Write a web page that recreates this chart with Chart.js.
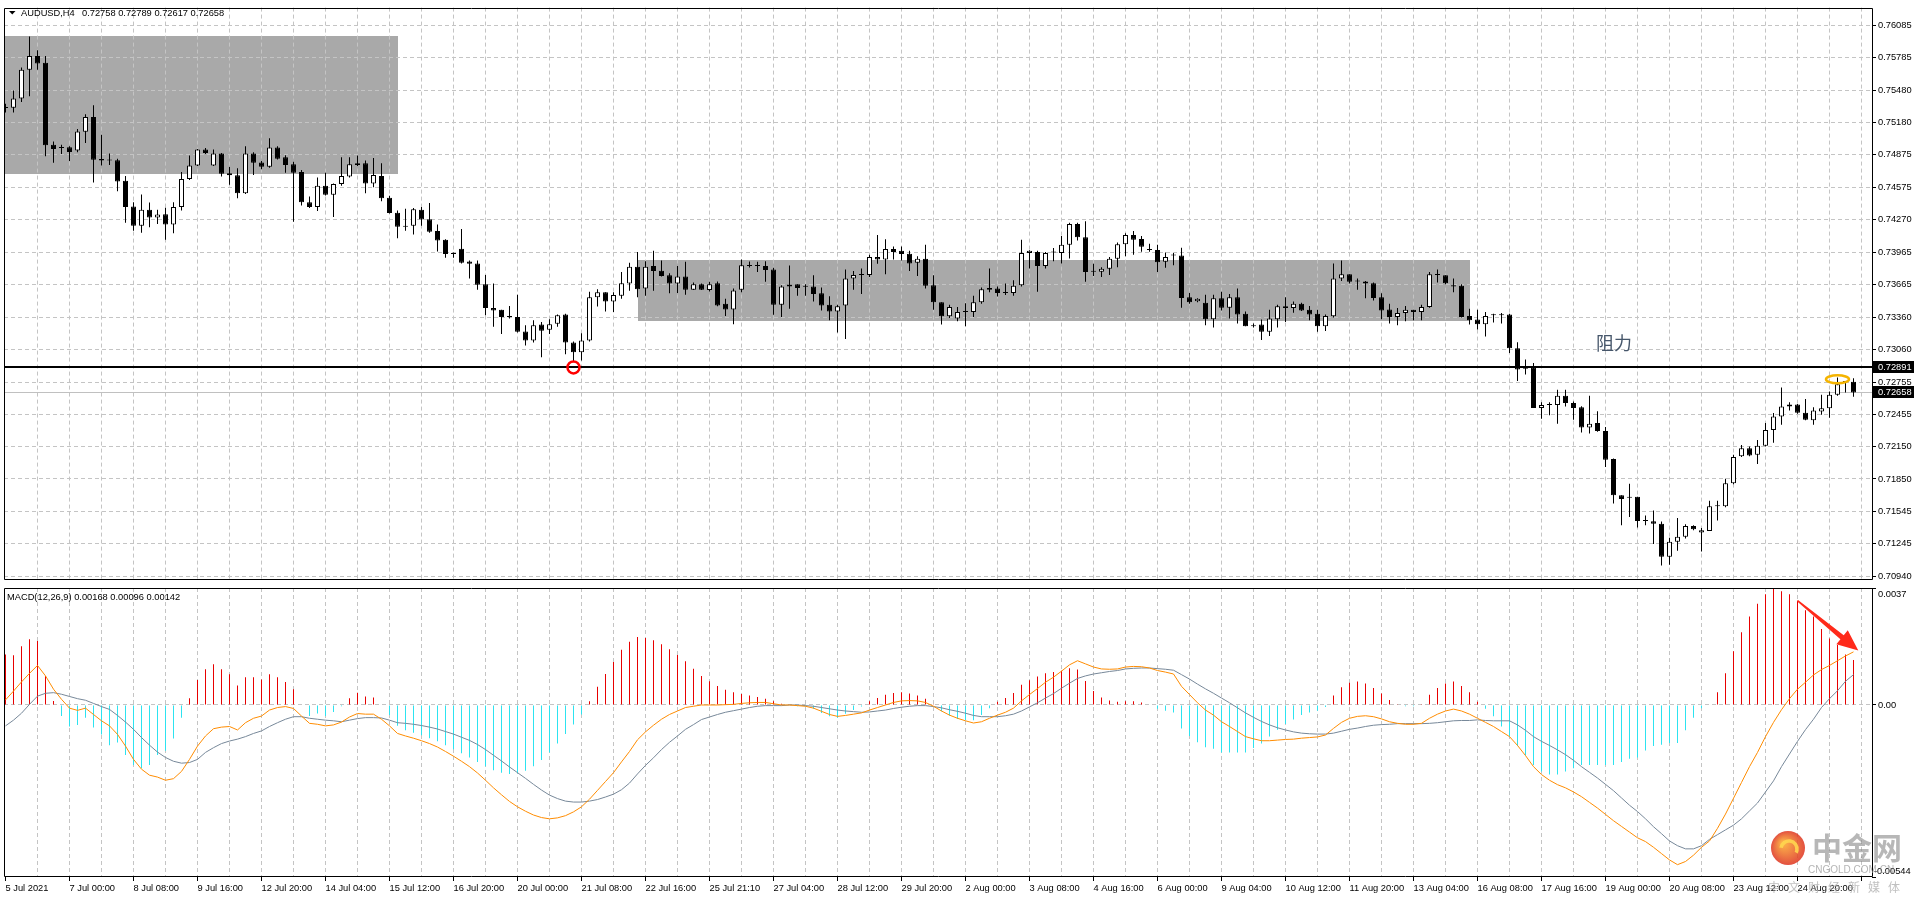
<!DOCTYPE html>
<html>
<head>
<meta charset="utf-8">
<script src="https://cdn.jsdelivr.net/npm/chart.js@4.4.0/dist/chart.umd.min.js"></script>
<style>
html, body { margin: 0; padding: 0; background: #fff; width: 1920px; height: 900px; overflow: hidden; }
#wrap { position: relative; width: 1920px; height: 900px; }
canvas { position: absolute; left: 0; }
#cPrice { top: 0; }
#cMacd { top: 576px; }
</style>
</head>
<body>
<div id="wrap">
  <canvas id="cPrice" width="1920" height="588"></canvas>
  <canvas id="cMacd" width="1920" height="324"></canvas>
</div>
<script>
// AUDUSD H4, one entry per bar
const opens = [
  0.75313,0.75316,0.75402,0.75669,0.75797,0.75736,0.74970,0.74939,0.74946,0.74915,
  0.75090,0.75228,0.74836,0.74823,0.74826,0.74633,0.74394,0.74213,0.74364,0.74290,
  0.74321,0.74226,0.74388,0.74649,0.74777,0.74925,0.74777,0.74888,0.74704,0.74685,
  0.74516,0.74888,0.74805,0.74765,0.74943,0.74854,0.74787,0.74716,0.74434,0.74388,
  0.74587,0.74502,0.74603,0.74673,0.74796,0.74796,0.74608,0.74679,0.74474,0.74336,
  0.74213,0.74213,0.74364,0.74275,0.74165,0.74082,0.73951,0.73999,0.73880,0.73861,
  0.73668,0.73445,0.73429,0.73362,0.73362,0.73227,0.73142,0.73292,0.73243,0.73298,
  0.73384,0.73124,0.73032,0.73142,0.73546,0.73592,0.73506,0.73561,0.73675,0.73831,
  0.73629,0.73837,0.73794,0.73751,0.73675,0.73739,0.73616,0.73668,0.73613,0.73678,
  0.73485,0.73432,0.73616,0.73846,0.73837,0.73837,0.73806,0.73475,0.73647,0.73668,
  0.73644,0.73647,0.73583,0.73475,0.73414,0.73469,0.73721,0.73754,0.73754,0.73923,
  0.73898,0.73996,0.73981,0.73953,0.73868,0.73905,0.73659,0.73500,0.73368,0.73347,
  0.73408,0.73408,0.73500,0.73632,0.73629,0.73586,0.73586,0.73659,0.73960,0.73969,
  0.73837,0.73965,0.73960,0.74036,0.74229,0.74107,0.73785,0.73785,0.73813,0.73905,
  0.74042,0.74128,0.74091,0.73988,0.73988,0.73877,0.73935,0.73935,0.73546,0.73509,
  0.73494,0.73340,0.73537,0.73448,0.73546,0.73393,0.73285,0.73292,0.73225,0.73340,
  0.73463,0.73445,0.73485,0.73429,0.73393,0.73276,0.73368,0.73721,0.73760,0.73693,
  0.73693,0.73678,0.73546,0.73432,0.73362,0.73399,0.73429,0.73408,0.73454,0.73754,
  0.73751,0.73659,0.73653,0.73372,0.73338,0.73294,0.73377,0.73377,0.73384,0.73071,
  0.72878,0.72887,0.72513,0.72541,0.72541,0.72627,0.72560,0.72520,0.72330,0.72373,
  0.72297,0.72036,0.71699,0.71675,0.71684,0.71457,0.71456,0.71433,0.71123,0.71264,
  0.71310,0.71411,0.71350,0.71365,0.71595,0.71595,0.71810,0.72061,0.72137,0.72076,
  0.72159,0.72306,0.72434,0.72526,0.72545,0.72467,0.72398,0.72480,0.72511,0.72637,
  0.72756,0.72758
];
const highs = [
  0.75353,0.75476,0.75690,0.75981,0.75852,0.75797,0.75001,0.74970,0.74955,0.75117,
  0.75255,0.75338,0.75062,0.74888,0.74838,0.74679,0.74434,0.74505,0.74431,0.74364,
  0.74382,0.74434,0.74716,0.74869,0.74930,0.74939,0.74925,0.74893,0.74762,0.74750,
  0.74955,0.74900,0.74817,0.75031,0.74955,0.74872,0.74810,0.74734,0.74486,0.74663,
  0.74709,0.74608,0.74854,0.74854,0.74869,0.74823,0.74847,0.74796,0.74493,0.74357,
  0.74373,0.74379,0.74388,0.74425,0.74226,0.74088,0.73965,0.74183,0.73889,0.73889,
  0.73754,0.73675,0.73429,0.73464,0.73570,0.73285,0.73331,0.73316,0.73340,0.73384,
  0.73393,0.73133,0.73209,0.73598,0.73622,0.73592,0.73592,0.73781,0.73868,0.73969,
  0.73883,0.73981,0.73889,0.73770,0.73837,0.73877,0.73684,0.73675,0.73690,0.73693,
  0.73531,0.73629,0.73898,0.73880,0.73877,0.73883,0.73822,0.73659,0.73843,0.73668,
  0.73668,0.73751,0.73638,0.73555,0.73475,0.73806,0.73791,0.73815,0.73944,0.74128,
  0.74088,0.74020,0.74020,0.73981,0.73929,0.74036,0.73751,0.73500,0.73475,0.73454,
  0.73491,0.73561,0.73638,0.73815,0.73647,0.73675,0.73705,0.74082,0.73984,0.73981,
  0.73969,0.74005,0.74119,0.74241,0.74241,0.74256,0.73859,0.73827,0.73923,0.74057,
  0.74143,0.74165,0.74119,0.74045,0.74036,0.73965,0.73960,0.74008,0.73586,0.73537,
  0.73570,0.73570,0.73598,0.73577,0.73629,0.73414,0.73301,0.73338,0.73430,0.73475,
  0.73546,0.73506,0.73494,0.73464,0.73429,0.73384,0.73861,0.73889,0.73760,0.73721,
  0.73699,0.73684,0.73583,0.73485,0.73445,0.73464,0.73429,0.73475,0.73781,0.73806,
  0.73751,0.73721,0.73668,0.73439,0.73429,0.73408,0.73393,0.73399,0.73393,0.73126,
  0.72964,0.72933,0.72566,0.72566,0.72683,0.72683,0.72572,0.72529,0.72627,0.72483,
  0.72336,0.72042,0.71699,0.71806,0.71684,0.71509,0.71555,0.71454,0.71301,0.71485,
  0.71427,0.71418,0.71392,0.71647,0.71647,0.71852,0.72076,0.72168,0.72152,0.72214,
  0.72373,0.72465,0.72704,0.72566,0.72550,0.72596,0.72520,0.72637,0.72667,0.72796,
  0.72756,0.72789
];
const lows = [
  0.75270,0.75270,0.75368,0.75423,0.75669,0.74863,0.74801,0.74884,0.74817,0.74900,
  0.74985,0.74618,0.74777,0.74780,0.74535,0.74241,0.74167,0.74149,0.74199,0.74229,
  0.74082,0.74143,0.74357,0.74640,0.74771,0.74884,0.74771,0.74673,0.74596,0.74471,
  0.74511,0.74688,0.74741,0.74755,0.74832,0.74709,0.74250,0.74403,0.74379,0.74351,
  0.74495,0.74296,0.74587,0.74663,0.74771,0.74516,0.74572,0.74443,0.74327,0.74097,
  0.74167,0.74131,0.74213,0.74149,0.73974,0.73914,0.73914,0.73861,0.73721,0.73616,
  0.73377,0.73271,0.73203,0.73347,0.73218,0.73096,0.73124,0.72986,0.73203,0.73271,
  0.73013,0.72949,0.72955,0.73133,0.73460,0.73414,0.73408,0.73531,0.73607,0.73546,
  0.73561,0.73607,0.73739,0.73583,0.73586,0.73570,0.73613,0.73613,0.73601,0.73463,
  0.73371,0.73294,0.73592,0.73825,0.73781,0.73690,0.73383,0.73362,0.73439,0.73561,
  0.73561,0.73506,0.73423,0.73331,0.73218,0.73157,0.73616,0.73577,0.73735,0.73859,
  0.73760,0.73898,0.73889,0.73791,0.73745,0.73629,0.73429,0.73292,0.73353,0.73322,
  0.73276,0.73362,0.73485,0.73592,0.73552,0.73567,0.73561,0.73647,0.73815,0.73598,
  0.73815,0.73883,0.73861,0.73907,0.74076,0.73690,0.73745,0.73735,0.73754,0.73827,
  0.73929,0.73944,0.73972,0.73972,0.73781,0.73822,0.73846,0.73448,0.73485,0.73500,
  0.73285,0.73264,0.73423,0.73347,0.73301,0.73276,0.73264,0.73147,0.73184,0.73264,
  0.73316,0.73402,0.73417,0.73331,0.73225,0.73230,0.73356,0.73699,0.73675,0.73616,
  0.73537,0.73515,0.73340,0.73301,0.73285,0.73322,0.73331,0.73331,0.73448,0.73684,
  0.73668,0.73592,0.73356,0.73292,0.73246,0.73179,0.73310,0.73301,0.73025,0.72765,
  0.72826,0.72513,0.72412,0.72444,0.72366,0.72526,0.72403,0.72284,0.72275,0.72290,
  0.71962,0.71622,0.71417,0.71494,0.71396,0.71417,0.71243,0.71043,0.71050,0.71181,
  0.71295,0.71371,0.71172,0.71365,0.71463,0.71586,0.71801,0.72054,0.72061,0.71990,
  0.72152,0.72189,0.72357,0.72490,0.72458,0.72398,0.72357,0.72449,0.72422,0.72627,
  0.72658,0.72617
];
const closes = [
  0.75313,0.75402,0.75669,0.75797,0.75729,0.74964,0.74930,0.74939,0.74902,0.75093,
  0.75228,0.74829,0.74822,0.74823,0.74627,0.74388,0.74213,0.74364,0.74290,0.74318,
  0.74226,0.74388,0.74649,0.74777,0.74925,0.74893,0.74888,0.74700,0.74685,0.74516,
  0.74888,0.74801,0.74765,0.74943,0.74838,0.74780,0.74709,0.74434,0.74388,0.74587,
  0.74502,0.74603,0.74679,0.74787,0.74780,0.74608,0.74688,0.74471,0.74333,0.74204,
  0.74204,0.74367,0.74272,0.74158,0.74076,0.73951,0.73951,0.73868,0.73859,0.73662,
  0.73445,0.73423,0.73362,0.73362,0.73225,0.73142,0.73285,0.73234,0.73294,0.73377,
  0.73124,0.73032,0.73142,0.73546,0.73592,0.73506,0.73567,0.73678,0.73831,0.73622,
  0.73831,0.73791,0.73745,0.73675,0.73739,0.73616,0.73668,0.73616,0.73668,0.73469,
  0.73432,0.73610,0.73846,0.73837,0.73837,0.73800,0.73475,0.73647,0.73666,0.73632,
  0.73644,0.73577,0.73469,0.73414,0.73463,0.73721,0.73754,0.73754,0.73923,0.73898,
  0.73996,0.73969,0.73951,0.73861,0.73905,0.73653,0.73500,0.73368,0.73454,0.73408,
  0.73408,0.73500,0.73622,0.73616,0.73586,0.73586,0.73653,0.73960,0.73981,0.73837,
  0.73960,0.73965,0.74036,0.74229,0.74107,0.73781,0.73785,0.73813,0.73905,0.74042,
  0.74128,0.74082,0.74018,0.73988,0.73873,0.73923,0.73935,0.73540,0.73500,0.73531,
  0.73340,0.73537,0.73448,0.73546,0.73384,0.73276,0.73276,0.73225,0.73347,0.73463,
  0.73445,0.73485,0.73423,0.73386,0.73276,0.73372,0.73721,0.73760,0.73690,0.73693,
  0.73675,0.73540,0.73423,0.73362,0.73399,0.73429,0.73408,0.73454,0.73760,0.73754,
  0.73678,0.73647,0.73362,0.73331,0.73294,0.73372,0.73377,0.73377,0.73071,0.72872,
  0.72878,0.72513,0.72541,0.72541,0.72627,0.72560,0.72513,0.72330,0.72366,0.72297,
  0.72030,0.71699,0.71663,0.71675,0.71457,0.71457,0.71433,0.71123,0.71264,0.71310,
  0.71411,0.71381,0.71371,0.71595,0.71595,0.71810,0.72054,0.72137,0.72070,0.72159,
  0.72306,0.72434,0.72526,0.72545,0.72467,0.72403,0.72490,0.72511,0.72637,0.72734,
  0.72756,0.72658
];

// MACD(12,26,9): dif = orange line, dea = grey line, hist = red/cyan bars
const dif = [
  0.00016,0.00044,0.00073,0.00100,0.00125,0.00092,0.00050,0.00018,-0.00010,-0.00017,
  -0.00010,-0.00030,-0.00050,-0.00066,-0.00093,-0.00130,-0.00172,-0.00203,-0.00222,-0.00228,
  -0.00238,-0.00233,-0.00210,-0.00172,-0.00130,-0.00098,-0.00075,-0.00070,-0.00068,-0.00079,
  -0.00056,-0.00042,-0.00035,-0.00016,-0.00008,-0.00005,-0.00011,-0.00035,-0.00058,-0.00061,
  -0.00066,-0.00063,-0.00054,-0.00038,-0.00027,-0.00029,-0.00029,-0.00045,-0.00066,-0.00090,
  -0.00098,-0.00105,-0.00113,-0.00122,-0.00133,-0.00147,-0.00162,-0.00178,-0.00195,-0.00215,
  -0.00238,-0.00262,-0.00284,-0.00305,-0.00322,-0.00336,-0.00348,-0.00356,-0.00360,-0.00357,
  -0.00350,-0.00338,-0.00322,-0.00298,-0.00270,-0.00242,-0.00214,-0.00180,-0.00147,-0.00110,
  -0.00085,-0.00064,-0.00045,-0.00030,-0.00019,-0.00008,-0.00004,0.00000,0.00000,0.00000,
  0.00001,0.00002,0.00005,0.00007,0.00008,0.00008,0.00004,0.00000,0.00000,-0.00002,
  -0.00004,-0.00010,-0.00020,-0.00030,-0.00036,-0.00033,-0.00029,-0.00025,-0.00016,-0.00008,
  0.00000,0.00008,0.00013,0.00014,0.00013,0.00008,-0.00004,-0.00019,-0.00032,-0.00042,
  -0.00050,-0.00057,-0.00053,-0.00042,-0.00032,-0.00023,-0.00010,0.00013,0.00033,0.00052,
  0.00072,0.00088,0.00107,0.00127,0.00140,0.00130,0.00120,0.00114,0.00113,0.00114,
  0.00120,0.00122,0.00121,0.00117,0.00109,0.00104,0.00098,0.00059,0.00033,0.00007,
  -0.00016,-0.00032,-0.00053,-0.00068,-0.00084,-0.00100,-0.00107,-0.00113,-0.00113,-0.00111,
  -0.00109,-0.00108,-0.00105,-0.00103,-0.00101,-0.00095,-0.00074,-0.00055,-0.00042,-0.00036,
  -0.00034,-0.00037,-0.00044,-0.00053,-0.00058,-0.00061,-0.00061,-0.00058,-0.00042,-0.00029,
  -0.00019,-0.00013,-0.00019,-0.00029,-0.00042,-0.00055,-0.00068,-0.00084,-0.00100,-0.00128,
  -0.00160,-0.00195,-0.00220,-0.00238,-0.00252,-0.00262,-0.00275,-0.00290,-0.00308,-0.00326,
  -0.00346,-0.00366,-0.00384,-0.00402,-0.00420,-0.00432,-0.00450,-0.00470,-0.00490,-0.00505,
  -0.00495,-0.00475,-0.00450,-0.00430,-0.00390,-0.00345,-0.00295,-0.00245,-0.00195,-0.00150,
  -0.00100,-0.00055,-0.00015,0.00020,0.00050,0.00072,0.00095,0.00112,0.00125,0.00140,
  0.00155,0.00168
];
const dea = [
  -0.00066,-0.00048,-0.00026,0.00002,0.00028,0.00037,0.00039,0.00034,0.00027,0.00020,
  0.00015,0.00005,-0.00005,-0.00014,-0.00033,-0.00054,-0.00077,-0.00103,-0.00127,-0.00149,
  -0.00166,-0.00178,-0.00184,-0.00182,-0.00172,-0.00150,-0.00135,-0.00122,-0.00114,-0.00108,
  -0.00100,-0.00090,-0.00082,-0.00068,-0.00056,-0.00045,-0.00037,-0.00037,-0.00042,-0.00045,
  -0.00048,-0.00050,-0.00053,-0.00048,-0.00043,-0.00040,-0.00040,-0.00041,-0.00048,-0.00056,
  -0.00058,-0.00061,-0.00065,-0.00070,-0.00076,-0.00084,-0.00092,-0.00102,-0.00112,-0.00125,
  -0.00141,-0.00159,-0.00177,-0.00196,-0.00214,-0.00232,-0.00251,-0.00269,-0.00285,-0.00296,
  -0.00304,-0.00307,-0.00307,-0.00304,-0.00299,-0.00291,-0.00282,-0.00268,-0.00247,-0.00218,
  -0.00191,-0.00167,-0.00141,-0.00118,-0.00098,-0.00077,-0.00062,-0.00046,-0.00038,-0.00030,
  -0.00023,-0.00018,-0.00013,-0.00008,-0.00004,-0.00002,-0.00002,-0.00002,0.00000,0.00000,
  -0.00002,-0.00004,-0.00008,-0.00012,-0.00016,-0.00019,-0.00021,-0.00023,-0.00022,-0.00019,
  -0.00016,-0.00011,-0.00007,-0.00004,-0.00002,-0.00002,-0.00005,-0.00009,-0.00015,-0.00020,
  -0.00026,-0.00033,-0.00037,-0.00037,-0.00037,-0.00034,-0.00029,-0.00019,-0.00006,0.00007,
  0.00022,0.00036,0.00053,0.00069,0.00084,0.00092,0.00098,0.00102,0.00106,0.00109,
  0.00114,0.00116,0.00117,0.00117,0.00115,0.00113,0.00110,0.00096,0.00082,0.00066,
  0.00051,0.00037,0.00022,0.00007,-0.00009,-0.00025,-0.00039,-0.00052,-0.00063,-0.00072,
  -0.00079,-0.00085,-0.00089,-0.00091,-0.00092,-0.00092,-0.00089,-0.00083,-0.00077,-0.00073,
  -0.00068,-0.00064,-0.00062,-0.00061,-0.00059,-0.00059,-0.00059,-0.00059,-0.00058,-0.00056,
  -0.00053,-0.00050,-0.00049,-0.00049,-0.00047,-0.00049,-0.00050,-0.00050,-0.00050,-0.00063,
  -0.00080,-0.00100,-0.00115,-0.00128,-0.00142,-0.00157,-0.00175,-0.00195,-0.00213,-0.00231,
  -0.00251,-0.00271,-0.00294,-0.00317,-0.00337,-0.00360,-0.00385,-0.00407,-0.00430,-0.00445,
  -0.00455,-0.00455,-0.00445,-0.00425,-0.00410,-0.00395,-0.00380,-0.00360,-0.00335,-0.00310,
  -0.00275,-0.00240,-0.00195,-0.00155,-0.00115,-0.00078,-0.00045,-0.00008,0.00020,0.00045,
  0.00075,0.00096
];
const hist = [
  0.00160,0.00157,0.00186,0.00208,0.00202,0.00092,0.00013,-0.00035,-0.00068,-0.00063,
  -0.00040,-0.00071,-0.00093,-0.00127,-0.00119,-0.00158,-0.00190,-0.00200,-0.00190,-0.00158,
  -0.00145,-0.00106,-0.00040,0.00021,0.00079,0.00113,0.00129,0.00113,0.00097,0.00062,
  0.00088,0.00088,0.00081,0.00097,0.00088,0.00073,0.00050,0.00000,-0.00035,-0.00027,
  -0.00035,-0.00022,-0.00004,0.00021,0.00039,0.00027,0.00024,0.00000,-0.00032,-0.00066,
  -0.00080,-0.00088,-0.00096,-0.00105,-0.00115,-0.00127,-0.00140,-0.00153,-0.00166,-0.00180,
  -0.00194,-0.00206,-0.00214,-0.00218,-0.00216,-0.00208,-0.00194,-0.00174,-0.00150,-0.00122,
  -0.00092,-0.00062,-0.00030,0.00012,0.00058,0.00098,0.00136,0.00175,0.00200,0.00215,
  0.00212,0.00205,0.00192,0.00176,0.00158,0.00138,0.00115,0.00092,0.00075,0.00060,
  0.00048,0.00040,0.00035,0.00030,0.00025,0.00020,0.00012,0.00004,0.00000,-0.00004,
  -0.00005,-0.00012,-0.00025,-0.00036,-0.00040,-0.00028,-0.00016,-0.00005,0.00012,0.00022,
  0.00032,0.00038,0.00040,0.00036,0.00030,0.00020,0.00002,-0.00020,-0.00034,-0.00044,
  -0.00048,-0.00048,-0.00032,-0.00010,0.00010,0.00022,0.00038,0.00064,0.00078,0.00090,
  0.00100,0.00104,0.00108,0.00116,0.00112,0.00076,0.00044,0.00024,0.00014,0.00010,
  0.00012,0.00012,0.00008,0.00000,-0.00012,-0.00018,-0.00024,-0.00074,-0.00098,-0.00118,
  -0.00134,-0.00138,-0.00150,-0.00150,-0.00150,-0.00150,-0.00136,-0.00122,-0.00100,-0.00078,
  -0.00060,-0.00046,-0.00032,-0.00024,-0.00018,-0.00006,0.00030,0.00056,0.00070,0.00074,
  0.00068,0.00054,0.00036,0.00016,0.00002,-0.00004,-0.00004,0.00002,0.00032,0.00054,
  0.00068,0.00074,0.00060,0.00040,0.00010,-0.00012,-0.00036,-0.00068,-0.00100,-0.00130,
  -0.00160,-0.00190,-0.00210,-0.00220,-0.00220,-0.00210,-0.00200,-0.00190,-0.00190,-0.00190,
  -0.00190,-0.00190,-0.00180,-0.00170,-0.00166,-0.00144,-0.00130,-0.00126,-0.00120,-0.00120,
  -0.00080,-0.00040,-0.00010,0.00000,0.00040,0.00100,0.00170,0.00230,0.00280,0.00320,
  0.00350,0.00370,0.00360,0.00350,0.00330,0.00300,0.00280,0.00240,0.00210,0.00190,
  0.00160,0.00142
];

const priceTicks = [0.76085,0.75785,0.75480,0.75180,0.74875,0.74575,0.74270,0.73965,0.73665,
  0.73360,0.73060,0.72755,0.72455,0.72150,0.71850,0.71545,0.71245,0.70940];
const macdTicks = [0.0037, 0, -0.00544];
const timeLabels = ['5 Jul 2021','7 Jul 00:00','8 Jul 08:00','9 Jul 16:00','12 Jul 20:00','14 Jul 04:00',
  '15 Jul 12:00','16 Jul 20:00','20 Jul 00:00','21 Jul 08:00','22 Jul 16:00','25 Jul 21:10','27 Jul 04:00',
  '28 Jul 12:00','29 Jul 20:00','2 Aug 00:00','3 Aug 08:00','4 Aug 16:00','6 Aug 00:00','9 Aug 04:00',
  '10 Aug 12:00','11 Aug 20:00','13 Aug 04:00','16 Aug 08:00','17 Aug 16:00','19 Aug 00:00','20 Aug 08:00',
  '23 Aug 12:00','24 Aug 20:00'];

const resistance = 0.72891;
const lastPrice = 0.72658;
const zones = [
  { from: -2, to: 49, top: 0.75984, bottom: 0.74697 },
  { from: 79, to: 183, top: 0.73898, bottom: 0.73329 }
];
const lowMark = { bar: 71, price: 0.72891 };
const highMark = { bar: 229, price: 0.72780 };
const resistNote = { bar: 198.8, price: 0.73117, text: '阻力' };
const arrow = { fromBar: 224, fromVal: 0.00330, toBar: 231.6, toVal: 0.00172 };

const FONT = "'Liberation Sans', Arial, sans-serif";
const FS = 9.3;
const GRID = '#c4c4c4';
const N = closes.length;
const idx = closes.map((_, i) => i);
const X_MIN = -0.1875, X_MAX = 233.3125;
const gridBars = [];
for (let v = 0; v <= 232; v += 4) gridBars.push(v);

function xAxis(showLabels) {
  return {
    type: 'linear', min: X_MIN, max: X_MAX, offset: false,
    afterBuildTicks: s => { s.ticks = gridBars.map(v => ({ value: v })); },
    afterFit: s => { s.height = showLabels ? 23 : 0; },
    grid: {
      offset: false,
      color: c => (c.tick && c.tick.value === 0) ? 'rgba(0,0,0,0)' : GRID,
      drawTicks: showLabels, tickLength: 4, tickBorderDash: [],
      tickColor: c => (c.tick && c.tick.value % 8 === 0) ? '#000' : 'rgba(0,0,0,0)'
    },
    border: { display: false, dash: [4, 3] },
    ticks: {
      display: showLabels, autoSkip: false, maxRotation: 0, minRotation: 0, align: 'start',
      padding: 2, color: '#000', font: { family: FONT, size: FS },
      callback: v => (v % 8 === 0 ? (timeLabels[v / 8] || '') : '')
    }
  };
}

function drawFrame(ctx, a) {
  ctx.save();
  ctx.strokeStyle = '#000';
  ctx.lineWidth = 1;
  ctx.beginPath();
  ctx.moveTo(Math.round(a.left) + 0.5, Math.round(a.top) + 0.5);
  ctx.lineTo(Math.round(a.right) + 0.5, Math.round(a.top) + 0.5);
  ctx.lineTo(Math.round(a.right) + 0.5, Math.round(a.bottom) - 0.5);
  ctx.lineTo(Math.round(a.left) + 0.5, Math.round(a.bottom) - 0.5);
  ctx.closePath();
  ctx.stroke();
  ctx.restore();
}

const priceDecor = {
  id: 'priceDecor',
  beforeDraw(chart) {
    const { ctx, chartArea: a, scales: { x, y } } = chart;
    ctx.save();
    ctx.beginPath();
    ctx.rect(a.left, a.top, a.right - a.left, a.bottom - a.top);
    ctx.clip();
    ctx.fillStyle = '#a9a9a9';
    zones.forEach(z => {
      const x1 = Math.round(x.getPixelForValue(z.from)), x2 = Math.round(x.getPixelForValue(z.to));
      const y1 = Math.round(y.getPixelForValue(z.top)), y2 = Math.round(y.getPixelForValue(z.bottom));
      ctx.fillRect(x1, y1, x2 - x1, y2 - y1);
    });
    ctx.restore();
  },
  beforeDatasetsDraw(chart) {
    const { ctx, chartArea: a, scales: { y } } = chart;
    ctx.save();
    const yb = Math.round(y.getPixelForValue(lastPrice)) + 0.5;
    ctx.strokeStyle = '#c0c0c0';
    ctx.lineWidth = 1;
    ctx.beginPath(); ctx.moveTo(a.left, yb); ctx.lineTo(a.right, yb); ctx.stroke();
    const yr = Math.round(y.getPixelForValue(resistance));
    ctx.strokeStyle = '#000';
    ctx.lineWidth = 2;
    ctx.beginPath(); ctx.moveTo(a.left, yr); ctx.lineTo(a.right, yr); ctx.stroke();
    ctx.restore();
  },
  afterDraw(chart) {
    const { ctx, chartArea: a, scales: { x, y } } = chart;
    drawFrame(ctx, a);
    ctx.save();
    // red circle on the 20 Jul low
    ctx.strokeStyle = '#ff0000';
    ctx.lineWidth = 2.5;
    ctx.beginPath();
    ctx.arc(x.getPixelForValue(lowMark.bar), y.getPixelForValue(lowMark.price), 6, 0, Math.PI * 2);
    ctx.stroke();
    // orange ellipse on the last high
    ctx.strokeStyle = '#f5b400';
    ctx.beginPath();
    ctx.ellipse(x.getPixelForValue(highMark.bar), y.getPixelForValue(highMark.price), 11.5, 4, 0, 0, Math.PI * 2);
    ctx.stroke();
    // note
    ctx.fillStyle = '#46566a';
    ctx.font = "18px 'Noto Sans CJK SC', sans-serif";
    ctx.textAlign = 'left';
    ctx.textBaseline = 'middle';
    ctx.fillText(resistNote.text, x.getPixelForValue(resistNote.bar), y.getPixelForValue(resistNote.price));
    // highlighted price labels
    ctx.font = FS + 'px ' + FONT;
    [resistance, lastPrice].forEach(v => {
      const py = Math.round(y.getPixelForValue(v));
      ctx.fillStyle = '#000';
      ctx.fillRect(a.right + 1, py - 6, 41, 12);
      ctx.fillStyle = '#fff';
      ctx.fillText(v.toFixed(5), a.right + 6, py + 0.5);
    });
    // title
    ctx.fillStyle = '#000';
    ctx.beginPath();
    ctx.moveTo(9, 11); ctx.lineTo(15.5, 11); ctx.lineTo(12.25, 14.5); ctx.closePath();
    ctx.fill();
    ctx.fillText('AUDUSD,H4', 21, 13);
    const ohlc = [opens[N - 1], highs[N - 1], lows[N - 1], closes[N - 1]].map(v => v.toFixed(5)).join(' ');
    ctx.fillText(ohlc, 82, 13);
    ctx.restore();
  }
};

const macdDecor = {
  id: 'macdDecor',
  afterDraw(chart) {
    const { ctx, chartArea: a, scales: { x, y } } = chart;
    drawFrame(ctx, a);
    ctx.save();
    ctx.font = FS + 'px ' + FONT;
    ctx.fillStyle = '#000';
    ctx.textAlign = 'left';
    ctx.textBaseline = 'middle';
    const lastVals = [dif[N - 1], dea[N - 1], hist[N - 1]].map(v => v.toFixed(5)).join(' ');
    ctx.fillText('MACD(12,26,9) ' + lastVals, a.left + 3, a.top + 9);
    ctx.fillText(macdTicks[0].toString(), a.right + 6, a.top + 6);
    ctx.fillText(macdTicks[2].toFixed(5), a.right + 2, a.bottom - 6);
    // red arrow along the shrinking histogram
    const x1 = x.getPixelForValue(arrow.fromBar), y1 = y.getPixelForValue(arrow.fromVal);
    const x2 = x.getPixelForValue(arrow.toBar), y2 = y.getPixelForValue(arrow.toVal);
    const ang = Math.atan2(y2 - y1, x2 - x1);
    const head = 21;
    const bx = x2 - head * Math.cos(ang), by = y2 - head * Math.sin(ang);
    const sn = Math.sin(ang), cs = Math.cos(ang);
    ctx.fillStyle = '#ff2a1a';
    ctx.beginPath();
    ctx.moveTo(x1 + 0.8 * sn, y1 - 0.8 * cs);
    ctx.lineTo(bx + 2.6 * sn, by - 2.6 * cs);
    ctx.lineTo(bx + 9 * sn, by - 9 * cs);
    ctx.lineTo(x2, y2);
    ctx.lineTo(bx - 9 * sn, by + 9 * cs);
    ctx.lineTo(bx - 2.6 * sn, by + 2.6 * cs);
    ctx.lineTo(x1 - 0.8 * sn, y1 + 0.8 * cs);
    ctx.closePath();
    ctx.fill();
    // watermark (canvas starts at page y 576)
    const cx = 1788, cy = 848 - 576;
    const g = ctx.createRadialGradient(cx - 5, cy - 5, 2, cx, cy, 17);
    g.addColorStop(0, 'rgba(250,160,40,0.85)');
    g.addColorStop(1, 'rgba(222,50,30,0.85)');
    ctx.fillStyle = g;
    ctx.beginPath(); ctx.arc(cx, cy, 17, 0, Math.PI * 2); ctx.fill();
    ctx.strokeStyle = 'rgba(255,215,80,0.9)';
    ctx.lineWidth = 3.5;
    ctx.beginPath(); ctx.arc(cx + 1, cy + 1, 8, Math.PI * 1.05, Math.PI * 2.15); ctx.stroke();
    ctx.fillStyle = 'rgba(135,135,135,0.6)';
    ctx.font = "bold 30px 'Noto Sans CJK SC', sans-serif";
    ctx.fillText('中金网', cx + 24, cy);
    ctx.fillStyle = 'rgba(150,150,150,0.7)';
    ctx.font = "10px 'Liberation Sans', sans-serif";
    ctx.fillText('CNGOLD.COM.CN', cx + 20, cy + 22);
    ctx.fillStyle = 'rgba(165,165,165,0.7)';
    ctx.font = "12px 'Noto Sans CJK SC', sans-serif";
    Array.from('中文财经新媒体').forEach((ch, k) => ctx.fillText(ch, cx - 20 + k * 20, cy + 39));
    ctx.restore();
  }
};

new Chart(document.getElementById('cPrice'), {
  type: 'bar',
  data: {
    datasets: [
      {
        type: 'bar', order: 0, grouped: false,
        data: idx.map(i => ({ x: i, y: [opens[i], closes[i]] })),
        backgroundColor: idx.map(i => (closes[i] > opens[i] ? '#ffffff' : '#000000')),
        borderColor: '#000', borderWidth: 1, borderSkipped: false,
        barThickness: 5, minBarLength: 1, inflateAmount: 0
      },
      {
        type: 'bar', order: 1, grouped: false,
        data: idx.map(i => ({ x: i, y: [lows[i], highs[i]] })),
        backgroundColor: '#000', borderWidth: 0, barThickness: 1, inflateAmount: 0
      }
    ]
  },
  options: {
    responsive: false, maintainAspectRatio: false, animation: false, devicePixelRatio: 1, events: [],
    layout: { padding: { left: 4, top: 4, right: 0, bottom: 2 }, autoPadding: false },
    plugins: { legend: { display: false }, tooltip: { enabled: false } },
    scales: {
      x: xAxis(false),
      y: {
        position: 'right', min: 0.70903, max: 0.76250,
        afterBuildTicks: s => { s.ticks = priceTicks.map(v => ({ value: v })); },
        afterFit: s => { s.width = 48; },
        grid: { color: GRID, drawTicks: true, tickLength: 4, tickColor: '#000', tickBorderDash: [] },
        border: { display: false, dash: [4, 3] },
        ticks: { padding: 2, color: '#000', font: { family: FONT, size: FS }, callback: v => v.toFixed(5) }
      }
    }
  },
  plugins: [priceDecor]
});

new Chart(document.getElementById('cMacd'), {
  type: 'line',
  data: {
    datasets: [
      {
        type: 'line', order: 0, data: idx.map(i => ({ x: i, y: dif[i] })),
        borderColor: '#ff8c00', borderWidth: 1, pointRadius: 0, tension: 0
      },
      {
        type: 'line', order: 1, data: idx.map(i => ({ x: i, y: dea[i] })),
        borderColor: '#778899', borderWidth: 1, pointRadius: 0, tension: 0
      },
      {
        type: 'bar', order: 2, grouped: false, data: idx.map(i => ({ x: i, y: hist[i] })),
        backgroundColor: hist.map(v => (v >= 0 ? '#e80000' : '#2de3f0')),
        borderWidth: 0, barThickness: 1, inflateAmount: 0
      }
    ]
  },
  options: {
    responsive: false, maintainAspectRatio: false, animation: false, devicePixelRatio: 1, events: [],
    layout: { padding: { left: 4, top: 12, right: 0, bottom: 0 }, autoPadding: false },
    plugins: { legend: { display: false }, tooltip: { enabled: false } },
    scales: {
      x: xAxis(true),
      y: {
        position: 'right', min: macdTicks[2], max: macdTicks[0],
        afterBuildTicks: s => { s.ticks = macdTicks.map(v => ({ value: v })); },
        afterFit: s => { s.width = 48; },
        grid: {
          color: c => (c.tick && c.tick.value === 0) ? GRID : 'rgba(0,0,0,0)',
          drawTicks: true, tickLength: 4, tickColor: '#000', tickBorderDash: []
        },
        border: { display: false, dash: [4, 3] },
        ticks: { padding: 2, color: '#000', font: { family: FONT, size: FS }, callback: v => (v === 0 ? '0.00' : '') }
      }
    }
  },
  plugins: [macdDecor]
});
</script>
</body>
</html>
